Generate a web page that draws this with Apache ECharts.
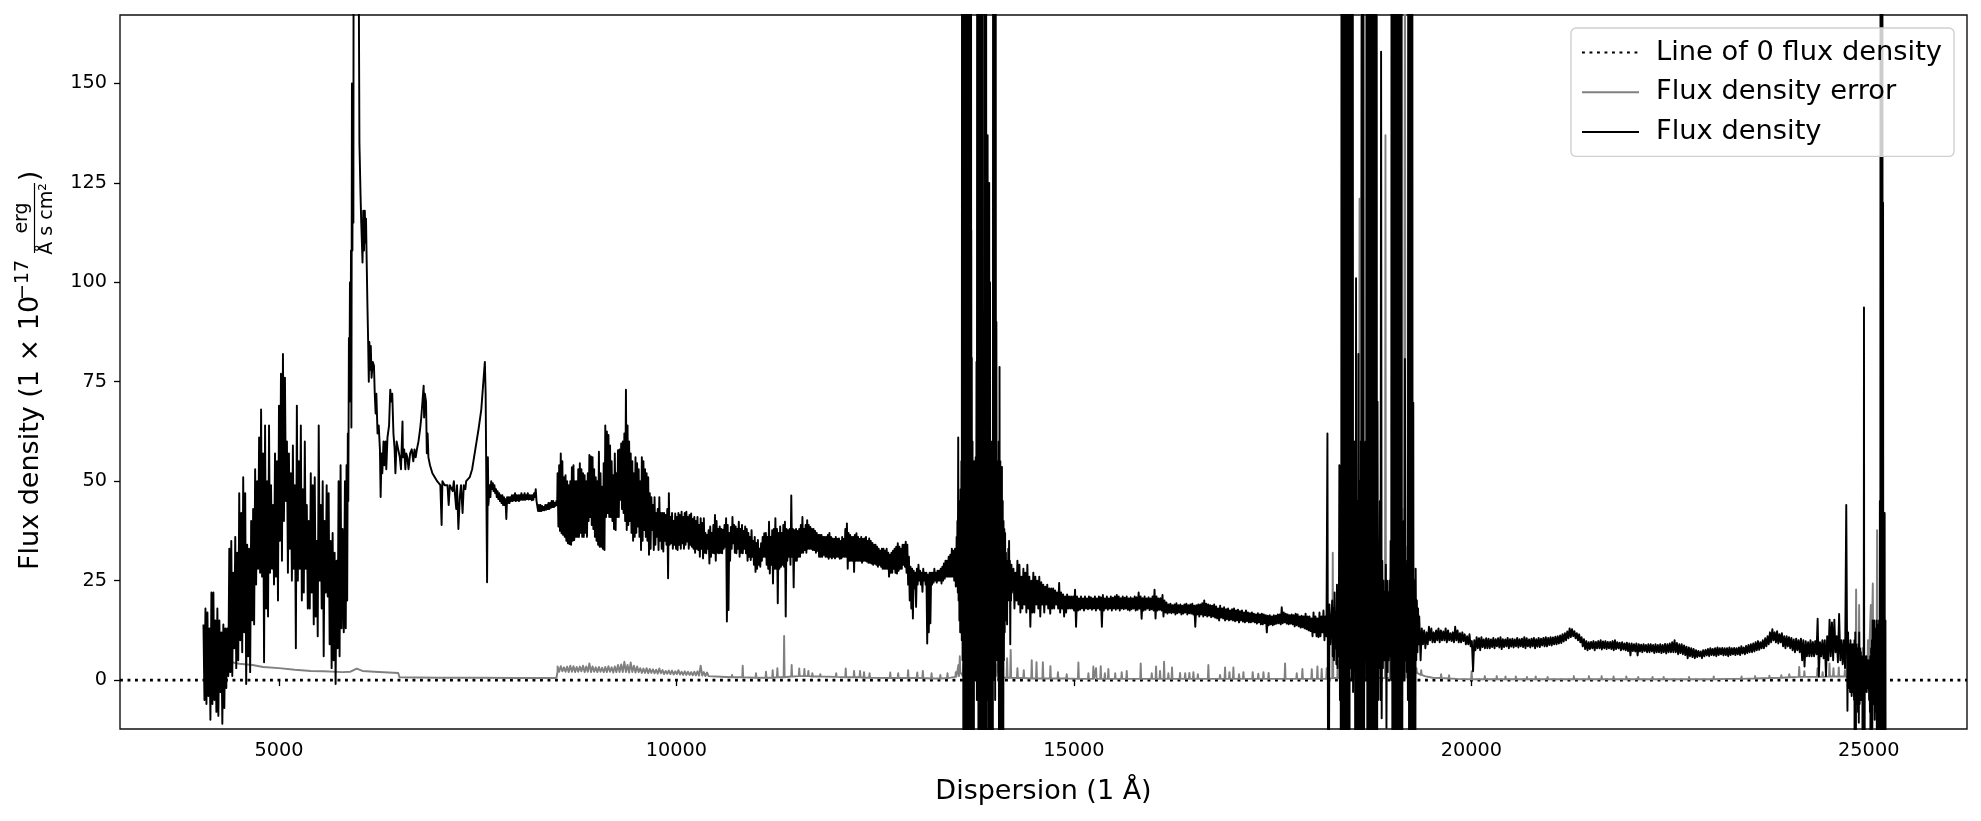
<!DOCTYPE html>
<html>
<head>
<meta charset="utf-8">
<style>html,body{margin:0;padding:0;background:#fff}#chart{width:1981px;height:821px}</style>
<script src="https://cdn.jsdelivr.net/npm/echarts@6/dist/echarts.min.js"></script>
</head>
<body>
<div id="chart"></div>
<script>
var xTicks = [5000, 10000, 15000, 20000, 25000];
var yTicks = [0, 25, 50, 75, 100, 125, 150];
var seriesNames = ['Line of 0 flux density', 'Flux density error', 'Flux density'];
var zeroLine = [[3000, 0], [26236, 0]];

// blue arm 4050-5775, 25 A grid
var blueHigh = [14,18,17,13,22,22,15,18,15,12, 14,13,13,33,35,27,36,32,47,42, 51,47,34,33,40,43,53,50,61,68,
 57,64,50,64,49,44,57,55,69,77, 82,76,60,57,52,59,49,69,55,64, 48,60,44,40,52,49,51,35,64,44, 50,40,49,47,35,37,32,30,50,54];
var blueLow = [-5,-6,-4,-10,-6,-5,-8,-9,-3,-11, -7,-2,1,2,1,8,3,5,10,7, 12,-1,6,2,15,14,24,28,27,26,
 4.5,18,16,27,28,24,26,20,35,30, 40,45,27,33,25,28,8,25,28,20, 22,28,18,18,22,14,16,11,25,18, 6,22,21,9,3,5,-1,8,6,13];

// emission region, individually read points
var midPoints = [[5800,38],[5815,12],[5830,50],[5840,13],[5850,54],[5858,20],[5866,62],[5872,45],[5880,86],[5886,70],[5893,100],[5900,71],[5906,108],[5911,63.5],[5918,150],[5924,108],[5930,150],[5936,115],[5943,300],[5950,400],[5995,400],[6003,180],[6012,135],[6026,122],[6035,115],[6040,112],[6051,105],[6060,118],[6070,108],[6080,118],[6088,110],[6095,116],[6102,107],[6112,95],[6122,85],[6130,75],[6137,85],[6146,78],[6155,84],[6165,76],[6180,80],[6195,79],[6205,72],[6216,67],[6225,72],[6240,62],[6255,64],[6270,58],[6279,46],[6290,57],[6300,52],[6315,60],[6325,54],[6340,60],[6350,53],[6365,61],[6385,64],[6400,73],[6412,70],[6425,72],[6440,62],[6455,58],[6465,52],[6480,60],[6500,58],[6520,56],[6535,53],[6554,65],[6560,56],[6575,58],[6590,53],[6600,57],[6615,56],[6630,53],[6650,57],[6670,58],[6690,55],[6705,58],[6720,56],[6735,58],[6755,60],[6775,63],[6790,66],[6805,70],[6820,74],[6826,66],[6835,72],[6850,70],[6860,57],[6870,62],[6880,56],[6900,54],[6930,52],[6960,51],[6990,50],[7030,49],[7046,39],[7056,50],[7085,49],[7120,49],[7135,44],[7150,49],[7185,47.5],[7200,50],[7230,43],[7240,49],[7257,38],[7275,46],[7290,49],[7310,42],[7325,49],[7345,48],[7355,50],[7400,51],[7430,53],[7470,58],[7510,63],[7545,68],[7575,76],[7590,80],[7600,72],[7612,40],[7618,24.6],[7628,56],[7635,44]];

// plateau 7650-8490, 20 A grid
var plateauHigh = [49,50,49.5,49,48,47.5,47,46.5,46.5,46,
 45.5,46,46,46,46.5,46.5,47,46.5,46.5,46.5,
 47,46.5,47,46.5,47,46.5,46.5,46.5,47,48,
 45,44,44,43.8,43.5,44,44,44.5,44.5,45,
 45,44.5,45];
var plateauLow = [46,48,47.5,47,46,45.5,45,44.5,44,44,
 40.5,44.5,44.5,45,45,45.2,45,45.2,45,45.3,
 45.3,45.3,45.3,45.5,45.4,45.5,45.2,45.3,46,45,
 42.5,42.5,42.5,42.7,42.7,42.8,43,43,43.3,43.5,
 43.5,43.8,44];

// near-IR band 8505-13505, 20 A grid
var bandHigh = [52,54,57,55,51,51.5,50,49,50,53.5,
 54,50,50,53,54.5,53,52,51.5,50,52,
 56.6,56.2,56,53,51,50,57.4,52,48.6,54.5,
 64,62.5,61.6,59,55,51.5,57,52,57.8,58,
 59.5,60,62,73,64,60,57,55,52,56,
 54.5,53,50,56,55,53,52,51,47,46,
 44,46,42,43,46,42,42,42,41.5,43,
 47,
 41,42,40,41.9,41,42,41.5,42.3,41,42,
 42.3,41,41.5,41.9,40.5,41,40,41,39,40.7,
 39.5,40.7,37,36.5,37.7,38.6,37,39,41.5,40,
 38,38.6,38,37.8,39,40.7,39,37,38.5,41,
 39,38.6,38,39.8,38,39,37.5,38.6,38,37,
 36,37.7,35,36,34.5,35.2,33,34.4,36,36.9,
 37,36,39.8,36,37.7,38,40.7,38,37,38.6,
 37,39,39.8,38,37.7,
 38,46.4,38,37.7,38,37.5,38,39,41,38,
 39,40.2,39,38.5,38,38,37.5,37,36.5,36.5,
 36.5,36,36,36,36.5,37,36,35.6,35.5,36,
 35.5,35.6,35,36,35.5,38,39.4,37,36.5,36,
 36,36.5,36.9,36,35.5,36,35.5,35.6,36,35,
 35.6,35,34.5,34,34,33.5,33,32.5,33,33,
 32.5,33,32,31.5,32,32.5,33,33.5,34.4,33.5,
 33,34,34,34.8,34,31,28.5,28,27.5,27,
 28,29,27.5,27,28,27,27,26.5,27,27,
 27,28,27,27.5,27.5,28,28.5,29.3,30,30,
 31,31.5,33,32.5,33];
var bandLow = [38.6,37.5,36.9,36.5,36,35,34.4,34.2,34,35,
 35.2,36,36,36,37,36,36,37,36,40,
 41,39,38,36,35,34,33.5,33.5,33,32.7,
 41,42,41,41,40,38,37.7,41,41,45.3,
 43,42,40,37.7,39,40,37,35,36,37,
 38.6,36,32.7,35,37.7,36,35,31.5,33,37.7,
 32.7,34,36,32.7,35,33,32.3,35,34,25.6,
 34,
 34.4,33,34,33,32.7,34,33,34.4,33,34,
 34.8,33,34,33.5,33,32,33,32.7,31,33,
 30.6,32,31.9,33,29.3,31,32,31.9,30,32,
 31.9,32,31.9,33,33.5,14.7,17.6,30,33,34.4,
 32,31.9,33,31,32,31.9,33,31.9,30,31,
 30.2,31,29,27.2,28,29,28.5,30,31,31,
 29,28,26.8,29,24.3,28,28,19.3,28,28.5,
 29,28.5,16,30,31,
 29,31,23.3,30,30,31,31,32,32,32.7,
 32,33,33,33,32.7,32.7,32,32.5,31,31,
 31,31.5,31,31,30.5,31,30.6,31,30.6,31,
 31,30.5,30.6,31,31,31,28,30,30,30,
 27.2,30,30,30,30,29.5,30,30,29.8,29.5,
 29.5,29.3,29,29.3,29,28.5,29,28.5,28,28,
 28,28,26,27,27,28,27,26.8,27.5,28,
 28,29,28.5,27,24,20,18,15.5,23,18.4,
 24,25,24,22.2,25,24,9.2,12,14.3,24,
 24.5,25,24.5,25,25,24.3,25,25.5,26,26,
 26,26,26,25,23.5];

// telluric gap one, 13515-14215, 10 A grid
var gapOneHigh = [33,36,40,61,45,42,48,55,300,300, 300,300,300,300,300,300,300,300,300,300,
 81,60,50,55,50,56,80,300,300,300, 300,300,300,300,70,60,300,300,300,130,
 137,70,125,100,60,55,60,300,300,300, 300,90,55,52,60,78.7,55,45,53.6,45,
 40,38,37,32,30,30,33,35,30,29,29];
var gapOneLow = [25,24,22,20,15,12,13,10,5,-80, -80,-80,-80,-80,-80,-80,-80,-80,-80,-80,
 -80,-80,-80,10,0,5,-5,0,-80,-80, -80,-80,-80,-80,-80,-80,-80,-80,-80,5,
 -5,-80,-80,-80,-80,-80,-80,0,10,-5, 5,10,5,0,-80,-80,-80,-80,-80,-80,
 5,12,15,19,14,20,22,20,9,20,22];

// H band, 14240-18240, 25 A grid
var hHigh = [28,27,30,29,26,28,27,29,26,25,
 27,26,25,26,24.6,24,23.5,24,23,23,
 23,22.5,22,24.4,22,21.5,21,21.5,21,21,
 21,22.7,21,20.5,21,20.5,21,20.5,21,20.8,
 20.5,21,20.5,21,20.8,21.4,20.5,21,20.5,21,
 20.7,21,21.4,21,20.6,21,20.7,21,20.5,20.8,
 20.5,21,20.8,22,21,20.6,21,20.5,20.8,20.5,
 21,22.7,21,20.5,20.6,21.4,20,19.5,19,19.2,
 18.8,19,19.3,18.8,19,18.7,19,19.2,18.8,19,
 19.2,18.7,18.8,19,19,19.3,20,19.2,19,18.8,
 18.7,19,18.5,18,18.7,18,18.3,17.8,18,17.5,
 17.8,18,17.5,17.7,17.3,17.5,17,17.5,17,16.8,
 17,16.7,16.5,16.8,16.5,16.7,16.5,16.3,16.2,16.3,
 16,16.3,16.2,16.5,16.5,18.3,17,16.7,16.5,16.3,
 16.5,16.3,16.7,16.5,16,16.2,16,16.7,16,16,
 15.5,17,16,15.5,17,16,17.5,16,62,19];
var hLow = [18,20,19,17,18,19,17,18,13.4,17,
 17,19,18,16,19,17,19,18,16.7,18,
 18,19,18,17,18,16,17,18,18,18,
 17.5,13.4,17.5,17.7,18,17.5,18,17.8,18,17.7,
 18,17.5,18,17.7,13.4,17.5,18,17.7,18,17.5,
 18,17.7,18,17.5,18,17.8,18,17.7,17.5,17.8,
 18,17.5,17.7,18,15.4,17.5,17.7,18,17.6,17.8,
 17.5,15.5,17.5,17.7,17.5,16,17,16.7,17,16.8,
 17,16.5,16.8,17,16.5,16.7,17,16.5,16.8,16.7,
 16.5,13.4,16.5,16,16.5,16,16.3,16,16.2,15.8,
 16,15.7,15.5,15,15.7,15.5,15,15.3,15,15.2,
 15,14.8,15,14.5,15,14.7,14.5,14.8,14.5,14.5,
 14.7,14.5,14.2,14.5,14,14,14.3,12,13.8,14,
 13.8,14,14.2,14.3,14,14.3,14.5,14.2,14,14.2,
 14,13.5,13.8,13.5,13.2,13.3,13,12.8,12.5,12.3,
 11,12,11,10.8,11,12,10,11,-80,9];

// telluric gap two, 18250-19330, 15 A grid
var gapTwoHigh = [20,18,22,17,24,20,54,30,400,400, 400,400,400,400,400,400,400,400,40,60,
 101,45,82,50,60,400,400,50,60,400, 400,400,400,400,400,400,400,400,70,30,
 45,158,30,25,22,29,25,22,25,35, 400,400,400,400,400,400,400,400,400,30,
 40,80.7,25,30,400,400,400,400,69.7,25, 28,20,18,16];
var gapTwoLow = [6,5,8,4,3,6,-5,-80,-80,-80, -80,-80,-80,-80,-80,3,0,-3,5,-80,
 -80,-80,-80,-80,-80,-80,-80,5,0,-80, -80,-80,-80,-80,-80,-80,-80,-80,-5,3,
 -5,-9.6,3,5,5,-12,2,5,6,0, -80,-80,-80,-80,-80,-80,-80,-80,-80,3,
 0,5,2,-5,-80,-80,-80,-80,-80,-80, 5,7,9,10];

// K band, 19347-24717, 30 A grid
var kHigh = [14.8,13,12.5,12,13.4,13,12,12.5,13,12.5,
 12.2,13,12.5,11.8,12,13.4,12.5,11.8,12,11.5,
 11,11.5,9.8,10,10.8,10.5,10.8,10.2,10.5,10.4,
 10.2,10.6,10.3,10.5,10.8,10.3,10.2,10.6,10.3,10.4,
 10.2,10.6,10.3,10.4,10.8,10.5,10.2,10.4,10.6,10.3,
 10.6,10.4,10.6,10.8,10.6,10.8,10.7,10.9,11,11.2,
 11.5,11.8,12.2,13,12.8,12.3,11.8,11.5,10.8,10.3,
 9.8,9.5,9.6,9.8,9.6,9.8,10,9.7,9.8,9.6,
 9.6,9.8,10,9.5,9.4,9.5,9.2,9.4,9.2,9.2,
 9,9.2,9,8.9,9,8.8,9,9,8.8,9,
 8.8,9,8.8,9.1,9,9.2,9.5,10,9.3,9,
 9,8.7,8.4,8.2,8,7.8,7.5,7.3,7.2,7.5,
 7.6,7.8,8,7.8,8,8.2,8,8.1,8,8,
 8.2,8,8.1,8,8.2,8.5,8.2,8.6,8.8,9,
 9.2,9.5,9.8,9.5,10,10.5,11,12,12.8,12,
 12.3,11.5,11.8,11,11,10.8,10.6,10.2,10.4,10,
 10.4,10,9.8,9.5,10,9.6,9.8,15.4,9.5,10,
 10,11,15.2,14.5,15.2,11,16.6,10,10,44];
var kLow = [5,9,8,9,10,9.5,9.5,10,9.5,10,
 10,9.5,10,9.8,9.5,10,9.5,9.5,9.8,9,
 9,8.5,2.2,7.5,8,7.5,8.3,8,8,8,
 8.3,8,8.5,8.2,7.8,8.3,8.5,8,8.4,8.2,
 8.5,8.2,8.5,8.3,8,8.5,8.2,8.5,8,8.4,
 8.3,8.7,8.5,8.5,8.8,8.7,9,9,9.2,9.3,
 9.7,10,10.5,10.8,11,10.5,10,9.5,8.5,7.8,
 7.5,7.8,8,7.5,8,8,7.7,8,7.8,8,
 7.8,7.5,7.8,8,7.5,7.7,7.5,7.3,6.2,7.3,
 7.2,6.2,7.2,7,7.3,7,7,7.2,6.8,7,
 7,6.8,7,6.7,7,7,7,7,6.5,6.8,
 6.5,6.3,5.5,6,5.8,5.5,5.8,6,5.5,6,
 6.2,6,6.3,6.2,6,6.3,6.5,6.2,6.3,6,
 6.3,6.5,6.3,6.5,6.3,6.7,6.5,6.8,7,7,
 7.2,7.5,7.6,8,8,8.5,9,9.5,10,9.5,
 9.2,9.5,8.5,8,8.5,8,7.5,7,7.5,7,
 5,3.4,6,6,6,6,6.5,0.9,6,5.5,
 1,5,6,5,7,4.5,5,4,3,-7.7];

// red end, 24740-25210, 10 A grid
var redHigh = [12,9,8,10,9,7,9,6,10,12, 9,8,6,9,12,8,7,6,5,6, 93.7,6,5,6,4,5,3,5,6,8, 10,15,12,15,13,10,15,14,10,15, 45,400,400,400,120,42,42,15];
var redLow = [-2,0,-3,-1,-4,-2,-3,-5,-80,-80, -5,-6,-8,-10.7,-6,-3,-5,-2,-80,-80, -80,-3,-2,-3,-1,-2,-5,-8,-80,-80, -12,-6,-5,-10,-8,-6,-80,-80,-80,-80, -80,-80,-80,-80,-80,-80,-80,-80];

// error spectrum
var errorSmooth = [[4050,4.6],[4376,4.6],[4500,4.1],[4667,3.8],[4800,3.3],[5000,3],[5200,2.6],[5400,2.3],[5560,2.2],[5570,2.7],[5580,2.2],[5800,2],[5900,2.1],[5978,2.9],[6050,2.3],[6200,2.1],[6500,1.8],[6517,0.7],[7000,0.6],[7500,0.6],[8000,0.5],[8490,0.5],[8505,2.2]];
var errorBandHigh = [3.4,3.5,3.2,3.4,3.6,3.5,3.3,3.4,3.6,3.4, 4.2,3.4,3.2,3.3,3.1,3.3,3.5,3.2,3.4,3.8, 3.9,4.6,3.8,4.4,3.6,3.4,3,2.9,3,2.8, 2.7,2.6,2.9,2.5,2.3,2.4,2.4,2.2,2.5,2.1, 2.2,2.1,2,2.1,2.2,3.6,2,1.9];
var errorBandLow = [2.1,2.2,2.1,2,2.1,2,2.1,2.2,2,2.1, 2,2.1,2,2.1,2,2,2.1,1.9,2,2, 2,2,1.9,2,1.9,2,1.8,1.8,1.7,1.8, 1.7,1.6,1.7,1.5,1.6,1.5,1.4,1.5,1.4,1.3, 1.3,1.3,1.2,1.2,1.1,1.1,1,1];
// [wavelength, peak, floor]
var errorPeaks = [[10500,1.2,0.9],[10700,1.3,0.7],[10834,3.6,0.7],[11001,1.7,0.6],[11127,2.1,0.6],[11211,2.5,0.6],[11270,3,0.7],[11355,11.1,0.7],[11450,3.8,0.9],[11545,2.9,1],[11610,2.8,1],[11660,2.3,1],[11710,1.7,0.9],[11810,1.5,0.9],[12010,1.7,0.8],[12130,2.9,0.7],[12235,2.3,0.7],[12310,2.3,0.7],[12360,2,0.6],[12430,1.7,0.6],[12690,1.9,0.5],[12790,1.7,0.5],[12915,2.5,0.5],[13030,1.9,0.5],[13100,2.3,0.5],[13210,1.7,0.4],[13320,1.3,0.4],[13410,1.7,0.5],[13515,2,0.8],[13548,3.8,1],[13565,6,2],[13610,4,1],[13710,113,1],[13716,50,1],[13770,11.7,1],[13860,8,1],[14015,6.3,1],[14050,5,0.6],[14160,5.5,0.6],[14205,7.6,0.6],[14290,3,0.5],[14370,2.5,0.5],[14470,5,0.4],[14530,4.5,0.4],[14610,4.5,0.4],[14705,3.5,0.4],[14800,2,0.4],[14910,1.5,0.4],[15057,4.4,0.3],[15183,1.7,0.3],[15245,3.4,0.3],[15279,3,0.3],[15338,3.5,0.3],[15390,1.7,0.3],[15434,2.8,0.3],[15520,1.7,0.3],[15602,2,0.3],[15665,2.3,0.3],[15841,4.2,0.3],[15980,1.7,0.3],[16034,3.4,0.3],[16084,2.3,0.3],[16135,4.6,0.3],[16189,1.7,0.3],[16235,3.2,0.3],[16336,1.8,0.3],[16400,1.7,0.3],[16453,1.8,0.3],[16504,2,0.3],[16560,1.5,0.3],[16692,3.8,0.3],[16839,1.3,0.3],[16902,3.2,0.3],[16957,2,0.3],[17007,3.2,0.3],[17078,1.5,0.3],[17133,2,0.3],[17250,2,0.3],[17320,1.6,0.3],[17385,2,0.3],[17450,1.8,0.3],[17657,4.2,0.3],[17804,1.7,0.3],[17875,2.8,0.3],[17993,2.7,0.3],[18064,3.4,0.3],[18118,2.8,0.3],[18181,3,0.3],[18257,32,0.5],[18320,5,0.5],[18420,4,0.5],[18530,5,0.5],[18594,121,0.5],[18620,170,0.8],[18640,60,0.5],[18752,200,0.5],[18806,200,0.5],[18920,137,0.5],[18980,20,0.5],[19060,15,0.5],[19146,43,0.6],[19166,200,0.6],[19190,33.5,0.6],[19220,200,0.6],[19250,10,0.8],[19310,3,1.8],[19370,2.5,1.3],[19420,1.5,1],[19520,1,0.6],[19620,1.5,0.5],[19720,1.2,0.4],[19820,0.8,0.3],[20004,2.2,0.2],[20170,1,0.2],[20320,1,0.2],[20430,0.9,0.2],[20560,0.9,0.2],[20700,0.8,0.2],[20810,0.9,0.2],[20960,0.8,0.2],[21100,0.7,0.2],[21290,1,0.2],[21480,1,0.2],[21640,1,0.2],[21790,0.9,0.2],[21950,0.9,0.2],[22100,0.8,0.2],[22280,0.8,0.2],[22420,0.8,0.2],[22580,0.7,0.2],[22740,0.8,0.2],[22900,0.7,0.2],[23050,0.9,0.2],[23230,0.8,0.3],[23400,0.9,0.3],[23570,1,0.4],[23750,1.1,0.5],[23900,1.2,0.6],[24000,1.5,0.7],[24125,3.3,0.8],[24190,2.2,0.8],[24355,3,0.8],[24420,2,0.8],[24506,4.2,0.9],[24556,3,0.9],[24623,3.2,0.9],[24700,2.5,0.9],[24800,8,1],[24841,22.8,1],[24879,18.9,1],[24920,8,1],[24990,10,1],[25026,18.9,1],[25051,24.3,1],[25105,37.7,1],[25143,20,1],[25185,10,1]];

function addBand(out, start, step, high, low) {
  for (var i = 0; i < high.length; i++) {
    out.push([start + i * step, high[i]]);
    out.push([start + (i + 0.5) * step, low[i]]);
  }
}
var fluxData = [];
addBand(fluxData, 4050, 25, blueHigh, blueLow);
fluxData = fluxData.concat(midPoints);
addBand(fluxData, 7650, 20, plateauHigh, plateauLow);
addBand(fluxData, 8505, 20, bandHigh, bandLow);
addBand(fluxData, 13515, 10, gapOneHigh, gapOneLow);
addBand(fluxData, 14240, 25, hHigh, hLow);
addBand(fluxData, 18250, 15, gapTwoHigh, gapTwoLow);
addBand(fluxData, 19347, 30, kHigh, kLow);
addBand(fluxData, 24740, 10, redHigh, redLow);

var errorData = errorSmooth.slice();
addBand(errorData, 8505, 40, errorBandHigh, errorBandLow);
errorPeaks.forEach(function (p) {
  errorData.push([p[0] - 6, p[2]]);
  errorData.push([p[0], p[1]]);
  errorData.push([p[0] + 6, p[2]]);
});

var FONT = '"DejaVu Sans"';
var plain = function (v) { return String(v); };
var chart = echarts.init(document.getElementById('chart'), null, {renderer: 'canvas'});
var ROT = Math.PI / 2;
chart.setOption({
  animation: false,
  backgroundColor: '#fff',
  grid: {left: 120, right: 14, top: 15, bottom: 92, show: true, borderColor: '#111', borderWidth: 1.4, backgroundColor: 'transparent'},
  xAxis: {
    type: 'value', min: 3000, max: 26236, splitLine: {show: false},
    axisLine: {show: false},
    axisTick: {show: true, length: 6, lineStyle: {color: '#000', width: 1.3}, customValues: xTicks},
    axisLabel: {color: '#000', fontFamily: FONT, fontSize: 19.3, margin: 12, customValues: xTicks, formatter: plain},
    name: 'Dispersion (1 Å)', nameLocation: 'middle', nameGap: 49,
    nameTextStyle: {color: '#000', fontFamily: FONT, fontSize: 27}
  },
  yAxis: {
    type: 'value', min: -12.3, max: 167.2, splitLine: {show: false},
    axisLine: {show: false},
    axisTick: {show: true, length: 6, lineStyle: {color: '#000', width: 1.3}, customValues: yTicks},
    axisLabel: {color: '#000', fontFamily: FONT, fontSize: 19.3, margin: 13, customValues: yTicks, formatter: plain}
  },
  legend: {
    right: 27, top: 28, orient: 'vertical', align: 'left', selectedMode: false,
    itemWidth: 57, itemHeight: 25, itemGap: 12.7, padding: [11, 12, 11, 10],
    itemStyle: {opacity: 0, color: 'transparent', borderColor: 'transparent', borderWidth: 0},
    backgroundColor: 'rgba(255,255,255,0.8)', borderColor: '#d0d0d0', borderWidth: 1.4, borderRadius: 5,
    textStyle: {color: '#000', fontFamily: FONT, fontSize: 27.3, lineHeight: 25, padding: [0, 0, 0, 12]},
    data: seriesNames.map(function (n) { return {name: n}; })
  },
  series: [
    {name: seriesNames[0], type: 'line', data: zeroLine, symbol: 'none', silent: true, z: 1,
     lineStyle: {color: '#000', width: 2.7, type: [2.9, 4.6]}, itemStyle: {color: '#000'}},
    {name: seriesNames[1], type: 'line', data: errorData, symbol: 'none', silent: true, z: 2,
     lineStyle: {color: '#808080', width: 1.93, join: 'round'}, itemStyle: {color: '#808080'}},
    {name: seriesNames[2], type: 'line', data: fluxData, symbol: 'none', silent: true, z: 3,
     lineStyle: {color: '#000', width: 1.93, join: 'round'}, itemStyle: {color: '#000'}}
  ],
  graphic: [
    {type: 'text', x: 31, y: 570, rotation: ROT, style: {text: 'Flux density (1 × 10', fontFamily: FONT, fontSize: 27, fill: '#000', textAlign: 'left', textVerticalAlign: 'middle'}},
    {type: 'text', x: 23, y: 300, rotation: ROT, style: {text: '−17', fontFamily: FONT, fontSize: 19, fill: '#000', textAlign: 'left', textVerticalAlign: 'middle'}},
    {type: 'text', x: 22, y: 218, rotation: ROT, style: {text: 'erg', fontFamily: FONT, fontSize: 19, fill: '#000', textAlign: 'center', textVerticalAlign: 'middle'}},
    {type: 'line', shape: {x1: 34.5, y1: 183, x2: 34.5, y2: 253}, style: {stroke: '#000', lineWidth: 1.2}},
    {type: 'text', x: 47, y: 219, rotation: ROT, style: {text: 'Å s cm²', fontFamily: FONT, fontSize: 19, fill: '#000', textAlign: 'center', textVerticalAlign: 'middle'}},
    {type: 'text', x: 31, y: 176, rotation: ROT, style: {text: ')', fontFamily: FONT, fontSize: 27, fill: '#000', textAlign: 'center', textVerticalAlign: 'middle'}}
  ]
});
</script>
</body>
</html>
